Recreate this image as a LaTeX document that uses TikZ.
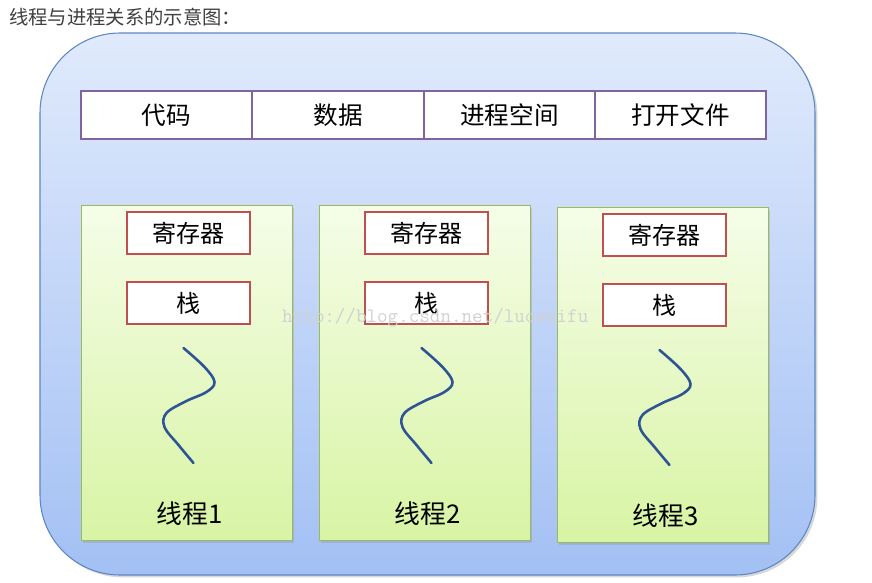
\documentclass[tikz,border=0pt]{standalone}
\usepackage{fontspec}
\setmainfont{Noto Sans CJK SC}
\usetikzlibrary{positioning,shadows}
\definecolor{procline}{HTML}{5B87C5}
\definecolor{proctop}{HTML}{E0EAFC}
\definecolor{procbot}{HTML}{A3C0F4}
\definecolor{cellline}{HTML}{8064A2}
\definecolor{thrline}{HTML}{9BBB59}
\definecolor{thrtop}{HTML}{F5FDE8}
\definecolor{thrbot}{HTML}{D8F4A4}
\definecolor{regline}{HTML}{C0504D}
\definecolor{wavecol}{HTML}{2F5496}
\tikzset{
  cell/.style={draw=cellline, line width=1.2pt, fill=white, inner sep=0pt,
    minimum width=5.13cm, minimum height=1.44cm, font=\fontsize{21}{23}\selectfont},
  thrbox/.style={draw=thrline, line width=0.8pt, top color=thrtop, bottom color=thrbot,
    inner sep=0pt, minimum width=6.33cm, minimum height=10.05cm,
    drop shadow={shadow xshift=2pt, shadow yshift=-2pt, opacity=0.25}},
  regbox/.style={draw=regline, line width=1.8pt, fill=white, inner sep=0pt,
    minimum width=3.69cm, minimum height=1.26cm, font=\fontsize{20.5}{22}\selectfont},
  thrlabel/.style={font=\fontsize{22}{24}\selectfont},
}
\begin{document}
\begin{tikzpicture}[x=0.03cm, y=-0.03cm]
\useasboundingbox[fill=white] (0,0) rectangle (872,582);
% title
\node[anchor=west, text=black!75, font=\fontsize{16.5}{18}\selectfont] (title) at (5,17) {线程与进程关系的示意图：};
% process
\path[draw=procline, line width=0.9pt, rounded corners=2.4cm, top color=proctop, bottom color=procbot,
  drop shadow={shadow xshift=2pt, shadow yshift=-2pt, opacity=0.3}] (40,33) rectangle (815,575);
\node[cell] (code) at (166.5,115) {代码};
\node[cell] (data) at (338,115) {数据};
\node[cell] (space) at (509.5,115) {进程空间};
\node[cell] (files) at (680.5,115) {打开文件};
% threads
\foreach \i/\x/\y in {1/186.5/373, 2/424.5/373, 3/662.5/375} {
  \node[thrbox] (thr\i) at (\x,\y) {};
  \node[regbox] (reg\i) at (\x+2,\y-140) {寄存器};
  \node[regbox] (stk\i) at (\x+2,\y-70) {栈};
  \begin{scope}[shift={(\x,\y)}]
    \draw[wavecol, line width=2.2pt, line cap=round] plot[smooth, tension=0.6] coordinates
      {(-3,-25) (18,-6) (28,9) (20,19) (0,28) (-20,40) (-22,54) (-8,72) (7,90)};
  \end{scope}
  \node[thrlabel] (lab\i) at (\x+3,\y+141) {线程\i};
}
% watermark
\node[anchor=west, text=black!18, font=\ttfamily\fontsize{17.5}{19}\selectfont] (wm) at (278,318) {http://blog.csdn.net/luoweifu};
\end{tikzpicture}
\end{document}
